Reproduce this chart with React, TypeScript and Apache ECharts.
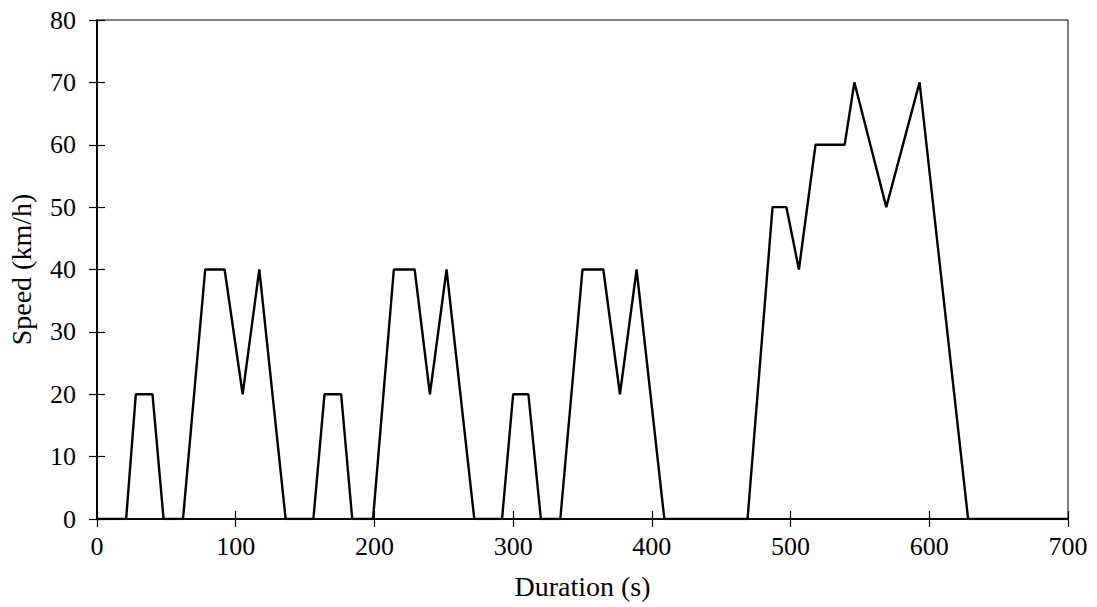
import React, { useEffect, useRef } from "react";
import * as echarts from "echarts";

const durations = [0, 21, 28, 40, 48, 62, 78, 92, 105, 117, 136, 156, 164, 176, 184, 199, 214, 229, 240, 252, 272, 292, 300, 311, 320, 334, 350, 365, 377, 389, 409, 469, 487, 497, 506, 518, 539, 546, 569, 593, 628, 700];
const speeds = [0, 0, 20, 20, 0, 0, 40, 40, 20, 40, 0, 0, 20, 20, 0, 0, 40, 40, 20, 40, 0, 0, 20, 20, 0, 0, 40, 40, 20, 40, 0, 0, 50, 50, 40, 60, 60, 70, 50, 70, 0, 0];

const xTitle = "Duration (s)";
const yTitle = "Speed (km/h)";

export default function App() {
  const ref = useRef<HTMLDivElement>(null);
  useEffect(() => {
    if (!ref.current) return;
    const chart = echarts.init(ref.current, null, { renderer: "svg" });
    const font = "'Liberation Serif', 'DejaVu Serif', serif";
    const label = { color: "#000", fontFamily: font, fontSize: 26 };
    const baseX = {
      type: "value" as const,
      min: 0,
      max: 700,
      interval: 100,
      position: "bottom" as const,
      splitLine: { show: false },
      axisLine: { show: true, onZero: false, lineStyle: { color: "#000", width: 1.5 } },
    };
    const baseY = {
      type: "value" as const,
      min: 0,
      max: 80,
      interval: 10,
      position: "left" as const,
      splitLine: { show: false },
      axisLine: { show: true, onZero: false, lineStyle: { color: "#000", width: 1.5 } },
    };
    chart.setOption({
      animation: false,
      backgroundColor: "#fff",
      grid: {
        left: 97,
        right: 29,
        top: 20,
        bottom: 88,
        show: true,
        borderColor: "#000",
        borderWidth: 1,
        containLabel: false,
        outerBoundsMode: "none",
      },
      xAxis: [
        {
          ...baseX,
          name: xTitle,
          nameLocation: "middle",
          nameGap: 53,
          nameTextStyle: { ...label, fontSize: 28 },
          axisTick: { show: true, inside: false, length: 8, lineStyle: { color: "#000", width: 1.2 } },
          axisLabel: { ...label, margin: 14 },
        },
        {
          ...baseX,
          axisTick: { show: true, inside: true, length: 8, lineStyle: { color: "#000", width: 1.2 } },
          axisLabel: { show: false },
        },
      ],
      yAxis: [
        {
          ...baseY,
          name: yTitle,
          nameLocation: "middle",
          nameGap: 62,
          nameTextStyle: { ...label, fontSize: 28 },
          axisTick: { show: true, inside: false, length: 8, lineStyle: { color: "#000", width: 1.2 } },
          axisLabel: { ...label, margin: 21 },
        },
        {
          ...baseY,
          axisTick: { show: true, inside: true, length: 8, lineStyle: { color: "#000", width: 1.2 } },
          axisLabel: { show: false },
        },
      ],
      series: [
        {
          type: "line",
          xAxisIndex: 0,
          yAxisIndex: 0,
          data: durations.map((d, i) => [d, speeds[i]]),
          showSymbol: false,
          lineStyle: { color: "#000", width: 2.4 },
        },
      ],
    });
    return () => chart.dispose();
  }, []);
  return (
    <div
      ref={ref}
      style={{ position: "fixed", left: 0, top: 0, width: 1097, height: 607, background: "#fff" }}
    />
  );
}
